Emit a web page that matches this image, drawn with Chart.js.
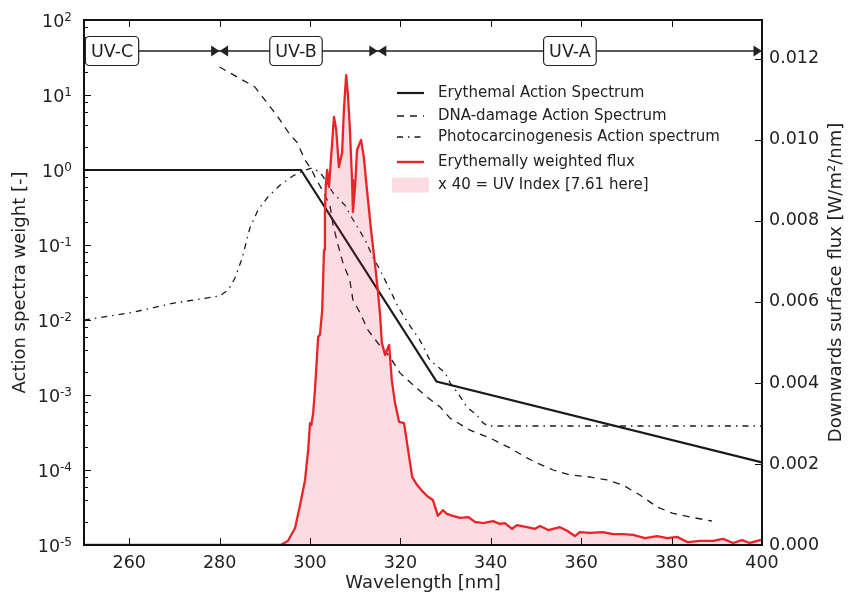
<!DOCTYPE html>
<html>
<head>
<meta charset="utf-8">
<script src="https://cdn.jsdelivr.net/npm/chart.js@4.4.1/dist/chart.umd.min.js"></script>
<style>
body { margin: 0; background: #fff; }
#chart { display: block; }
</style>
</head>
<body>
<canvas id="chart" width="850" height="597"></canvas>
<script>
// tick values
const wavelengthTicks = [260, 280, 300, 320, 340, 360, 380, 400];
const fluxTicks = [0, 0.002, 0.004, 0.006, 0.008, 0.010, 0.012];
const weightExponents = [-5, -4, -3, -2, -1, 0, 1, 2];
const minorSubs = [2, 4, 6, 8];

// UV bands: boundaries and where the labels sit
const bandEdges = [250, 280, 315, 400];
const bandNames = ['UV-C', 'UV-B', 'UV-A'];
const bandLabelNm = [256.2, 296.9, 357.5];

// Erythemal action spectrum
const erythemalNm = [250, 298, 328, 400];
const erythemalW = [1, 1, 0.00151, 0.000126];

// DNA-damage action spectrum
const dnaNm = [280.0, 287.8, 290.0, 292.9, 295.6, 297.1, 298.9, 300.4, 301.1, 302.7, 304.4, 305.1, 306.2, 307.3, 308.8, 309.5, 311.1, 312.8, 315.0, 317.7, 319.9, 322.8, 325.9, 328.8, 331.0, 335.4, 339.8, 344.2, 348.0, 350.2, 353.8, 357.5, 361.9, 365.7, 369.2, 373.0, 376.8, 380.1, 384.1, 388.9];
const dnaW = [23.6, 12.8, 8.6, 5.1, 2.93, 2.36, 1.36, 1.0, 0.807, 0.541, 0.341, 0.185, 0.1, 0.0575, 0.0341, 0.0185, 0.0124, 0.00736, 0.00494, 0.00321, 0.00197, 0.00136, 0.00094, 0.00069, 0.00049, 0.00034, 0.000267, 0.000197, 0.000145, 0.000124, 0.0001, 0.0000858, 0.0000807, 0.0000736, 0.0000631, 0.0000464, 0.0000321, 0.0000267, 0.0000236, 0.0000209];

// Photocarcinogenesis action spectrum
const photoNm = [250, 260, 270.1, 280, 281.9, 283.4, 285.0, 286.7, 288.5, 290.7, 293.4, 296.2, 298.9, 300.4, 302.2, 303.8, 305.1, 306.2, 307.7, 309.3, 310.6, 312.2, 313.9, 315.5, 317.7, 319.5, 321.7, 324.3, 326.5, 329.9, 331.0, 332.7, 334.7, 336.9, 338.3, 339.4, 400];
const photoW = [0.01, 0.0124, 0.0169, 0.0209, 0.0251, 0.0363, 0.0671, 0.169, 0.293, 0.437, 0.63, 0.832, 1.0, 1.06, 0.94, 0.671, 0.494, 0.423, 0.341, 0.229, 0.169, 0.117, 0.0692, 0.0464, 0.0251, 0.0149, 0.00912, 0.00541, 0.00293, 0.00197, 0.00145, 0.00106, 0.00069, 0.00054, 0.000423, 0.000386, 0.000386];

// Erythemally weighted flux (right axis)
const fluxNm = [250, 293.5, 295.1, 296.7, 297.8, 298.9, 299.6, 300.0, 300.3, 300.7, 301.1, 301.5, 301.8, 302.2, 302.7, 303.1, 303.3, 303.5, 303.8, 304.2, 304.9, 305.3, 305.8, 306.4, 307.1, 307.5, 308.0, 308.4, 308.8, 309.3, 309.5, 310.0, 310.4, 311.3, 311.9, 312.6, 313.5, 314.4, 315.0, 315.5, 315.9, 316.6, 317.5, 318.1, 318.8, 319.7, 320.8, 321.7, 322.6, 323.7, 325.0, 326.1, 327.2, 328.3, 329.4, 330.3, 331.6, 333.2, 335.0, 336.5, 338.3, 340.5, 342.0, 343.1, 344.7, 345.8, 348.0, 349.8, 350.9, 352.7, 355.3, 356.9, 358.6, 359.7, 361.9, 364.8, 367.0, 369.2, 371.5, 374.1, 376.8, 379.0, 381.2, 383.6, 386.3, 389.2, 391.4, 393.6, 395.6, 397.3, 399.6, 400];
const fluxVal = [0, 0, 0.00010, 0.00042, 0.00099, 0.00160, 0.00235, 0.00301, 0.00296, 0.00326, 0.00383, 0.00457, 0.00514, 0.00519, 0.00580, 0.00728, 0.00820, 0.00889, 0.00926, 0.00884, 0.00993, 0.01057, 0.01025, 0.00933, 0.00968, 0.01074, 0.01160, 0.01111, 0.01032, 0.00901, 0.00822, 0.00889, 0.00975, 0.01000, 0.00958, 0.00877, 0.00778, 0.00691, 0.00630, 0.00568, 0.00499, 0.00469, 0.00494, 0.00407, 0.00351, 0.00304, 0.00301, 0.00235, 0.00168, 0.00148, 0.00131, 0.00119, 0.00111, 0.00072, 0.00086, 0.00077, 0.00072, 0.00067, 0.00069, 0.00057, 0.00054, 0.00059, 0.00052, 0.00054, 0.00040, 0.00049, 0.00044, 0.00040, 0.00047, 0.00037, 0.00044, 0.00035, 0.00022, 0.00032, 0.00030, 0.00032, 0.00027, 0.00027, 0.00025, 0.00017, 0.00022, 0.00017, 0.00020, 0.00007, 0.00010, 0.00010, 0.00015, 0.00005, 0.00012, 0.00005, 0.00012, 0.00012];

const legendLabels = ['Erythemal Action Spectrum', 'DNA-damage Action Spectrum', 'Photocarcinogenesis Action spectrum', 'Erythemally weighted flux', 'x 40 = UV Index [7.61 here]'];

const INK = '#222';
const FONT = "'DejaVu Sans', sans-serif";
const RED = '#ea2328';
const PINK = 'rgba(220,20,60,0.15)';
const DASH = [7, 6];
const DASHDOT = [6, 5, 1.5, 5];

Chart.defaults.font.family = FONT;
Chart.defaults.color = INK;

function toPoints(xs, ys) {
    return xs.map((x, i) => ({ x: x, y: ys[i] }));
}

function roundBox(ctx, x, y, w, h, r) {
    ctx.beginPath();
    ctx.moveTo(x + r, y);
    ctx.arcTo(x + w, y, x + w, y + h, r);
    ctx.arcTo(x + w, y + h, x, y + h, r);
    ctx.arcTo(x, y + h, x, y, r);
    ctx.arcTo(x, y, x + w, y, r);
    ctx.closePath();
}

// frame and inward ticks, like the old matplotlib look
const framePlugin = {
    id: 'frame',
    afterDatasetsDraw(chart) {
        const ctx = chart.ctx;
        const a = chart.chartArea;
        const x = chart.scales.x, y = chart.scales.y, y2 = chart.scales.y2;
        ctx.save();
        ctx.strokeStyle = '#111';
        ctx.lineWidth = 1;
        ctx.beginPath();
        wavelengthTicks.forEach(v => {
            const px = Math.round(x.getPixelForValue(v)) + 0.5;
            ctx.moveTo(px, a.bottom); ctx.lineTo(px, a.bottom - 7);
            ctx.moveTo(px, a.top); ctx.lineTo(px, a.top + 7);
        });
        weightExponents.forEach((e, i) => {
            const py = Math.round(y.getPixelForValue(Math.pow(10, e))) + 0.5;
            ctx.moveTo(a.left, py); ctx.lineTo(a.left + 7, py);
            if (i < weightExponents.length - 1) {
                minorSubs.forEach(m => {
                    const pm = Math.round(y.getPixelForValue(m * Math.pow(10, e))) + 0.5;
                    ctx.moveTo(a.left, pm); ctx.lineTo(a.left + 4, pm);
                });
            }
        });
        fluxTicks.forEach(v => {
            const py = Math.round(y2.getPixelForValue(v)) + 0.5;
            ctx.moveTo(a.right, py); ctx.lineTo(a.right - 7, py);
        });
        ctx.stroke();
        ctx.lineWidth = 2;
        ctx.strokeRect(a.left, a.top, a.right - a.left, a.bottom - a.top);
        ctx.restore();
    },
    afterDraw(chart) {
        const ctx = chart.ctx;
        const a = chart.chartArea;
        const y = chart.scales.y;
        ctx.save();
        ctx.fillStyle = INK;
        // left log tick labels with superscripts
        weightExponents.forEach(e => {
            const py = y.getPixelForValue(Math.pow(10, e));
            const sup = String(e);
            ctx.font = '12px ' + FONT;
            const ws = ctx.measureText(sup).width;
            ctx.font = '17.5px ' + FONT;
            const wb = ctx.measureText('10').width;
            const right = a.left - 12;
            ctx.textBaseline = 'alphabetic';
            ctx.textAlign = 'left';
            ctx.fillText('10', right - ws - wb, py + 7);
            ctx.font = '12px ' + FONT;
            ctx.fillText(sup, right - ws, py + 0.5);
        });
        // axis titles
        ctx.font = '18px ' + FONT;
        ctx.textAlign = 'center';
        ctx.textBaseline = 'middle';
        ctx.fillText('Wavelength [nm]', (a.left + a.right) / 2, 583);
        const midY = (a.top + a.bottom) / 2;
        ctx.save();
        ctx.translate(20, midY);
        ctx.rotate(-Math.PI / 2);
        ctx.fillText('Action spectra weight [-]', 0, 0);
        ctx.restore();
        ctx.save();
        ctx.translate(836, midY);
        ctx.rotate(-Math.PI / 2);
        ctx.fillText('Downwards surface flux [W/m\u00b2/nm]', 0, 0);
        ctx.restore();
        ctx.restore();
    }
};

// UV-C / UV-B / UV-A arrows with boxed labels
const bandPlugin = {
    id: 'bands',
    afterDatasetsDraw(chart) {
        const ctx = chart.ctx;
        const a = chart.chartArea;
        const x = chart.scales.x;
        const yy = a.top + 31;
        ctx.save();
        ctx.strokeStyle = INK;
        ctx.fillStyle = INK;
        ctx.lineWidth = 1.3;
        ctx.beginPath();
        ctx.moveTo(x.getPixelForValue(bandEdges[0]), yy);
        ctx.lineTo(x.getPixelForValue(bandEdges[bandEdges.length - 1]) - 2, yy);
        ctx.stroke();
        const tri = (tip, dir) => {
            ctx.beginPath();
            ctx.moveTo(tip, yy);
            ctx.lineTo(tip - dir * 8.5, yy - 5.5);
            ctx.lineTo(tip - dir * 8.5, yy + 5.5);
            ctx.closePath();
            ctx.fill();
        };
        bandEdges.forEach((v, i) => {
            const px = x.getPixelForValue(v);
            if (i > 0) tri(px, 1);
            if (i > 0 && i < bandEdges.length - 1) tri(px, -1);
        });
        ctx.font = '17.5px ' + FONT;
        ctx.textAlign = 'center';
        ctx.textBaseline = 'middle';
        bandNames.forEach((name, i) => {
            const px = x.getPixelForValue(bandLabelNm[i]);
            const w = ctx.measureText(name).width + 11;
            roundBox(ctx, px - w / 2, yy - 14.5, w, 29, 4);
            ctx.fillStyle = '#fff';
            ctx.fill();
            ctx.lineWidth = 1.2;
            ctx.stroke();
            ctx.fillStyle = INK;
            ctx.fillText(name, px, yy + 1);
        });
        ctx.restore();
    }
};

// legend drawn inside the plot area
const legendPlugin = {
    id: 'insideLegend',
    afterDraw(chart) {
        const ctx = chart.ctx;
        const a = chart.chartArea;
        const left = a.left + 313;
        const rows = [73, 96, 117, 142, 165];
        const styles = [
            { color: '#1a1a1a', width: 2.2, dash: [] },
            { color: '#1a1a1a', width: 1.3, dash: DASH },
            { color: '#1a1a1a', width: 1.3, dash: DASHDOT },
            { color: RED, width: 2.4, dash: [] },
            null
        ];
        ctx.save();
        legendLabels.forEach((label, i) => {
            const cy = a.top + rows[i];
            const st = styles[i];
            if (st) {
                ctx.strokeStyle = st.color;
                ctx.lineWidth = st.width;
                ctx.setLineDash(st.dash);
                ctx.beginPath();
                ctx.moveTo(left, cy);
                ctx.lineTo(left + 27, cy);
                ctx.stroke();
                ctx.setLineDash([]);
            } else {
                ctx.fillStyle = PINK;
                ctx.fillRect(left - 5, cy - 7.5, 37, 15);
            }
            ctx.fillStyle = INK;
            ctx.font = '15px ' + FONT;
            ctx.textAlign = 'left';
            ctx.textBaseline = 'middle';
            ctx.fillText(label, left + 41, cy);
        });
        ctx.restore();
    }
};

const hiddenGrid = { display: false, drawTicks: false };

new Chart(document.getElementById('chart'), {
    type: 'line',
    data: {
        datasets: [
            {
                label: legendLabels[3],
                data: toPoints(fluxNm, fluxVal),
                yAxisID: 'y2',
                borderColor: RED,
                borderWidth: 2.3,
                borderJoinStyle: 'round',
                backgroundColor: PINK,
                fill: 'origin',
                pointRadius: 0,
                tension: 0,
                order: 0
            },
            {
                label: legendLabels[0],
                data: toPoints(erythemalNm, erythemalW),
                yAxisID: 'y',
                borderColor: '#1a1a1a',
                borderWidth: 2.2,
                pointRadius: 0,
                fill: false,
                order: 1
            },
            {
                label: legendLabels[1],
                data: toPoints(dnaNm, dnaW),
                yAxisID: 'y',
                borderColor: '#1a1a1a',
                borderWidth: 1.3,
                borderDash: DASH,
                pointRadius: 0,
                fill: false,
                order: 2
            },
            {
                label: legendLabels[2],
                data: toPoints(photoNm, photoW),
                yAxisID: 'y',
                borderColor: '#1a1a1a',
                borderWidth: 1.3,
                borderDash: DASHDOT,
                pointRadius: 0,
                fill: false,
                order: 3
            }
        ]
    },
    options: {
        responsive: false,
        animation: false,
        devicePixelRatio: 1,
        layout: { padding: { top: 20, left: 0, right: 0, bottom: 0 } },
        plugins: {
            legend: { display: false },
            tooltip: { enabled: false }
        },
        scales: {
            x: {
                type: 'linear',
                position: 'bottom',
                min: 250,
                max: 400,
                grid: hiddenGrid,
                border: { display: false },
                ticks: { padding: 8, maxRotation: 0, autoSkip: false, font: { size: 17.5 }, color: INK },
                afterBuildTicks: s => { s.ticks = wavelengthTicks.map(v => ({ value: v })); },
                afterFit: s => { s.height = 52; }
            },
            y: {
                type: 'logarithmic',
                position: 'left',
                min: 1e-5,
                max: 1e2,
                grid: hiddenGrid,
                border: { display: false },
                ticks: { display: false },
                afterFit: s => { s.width = 84; }
            },
            y2: {
                type: 'linear',
                position: 'right',
                min: 0,
                max: 0.01296,
                grid: hiddenGrid,
                border: { display: false },
                ticks: { padding: 7, autoSkip: false, font: { size: 17.5 }, color: INK, callback: v => Number(v).toFixed(3) },
                afterBuildTicks: s => { s.ticks = fluxTicks.map(v => ({ value: v })); },
                afterFit: s => { s.width = 88; }
            }
        }
    },
    plugins: [framePlugin, bandPlugin, legendPlugin]
});
</script>
</body>
</html>
